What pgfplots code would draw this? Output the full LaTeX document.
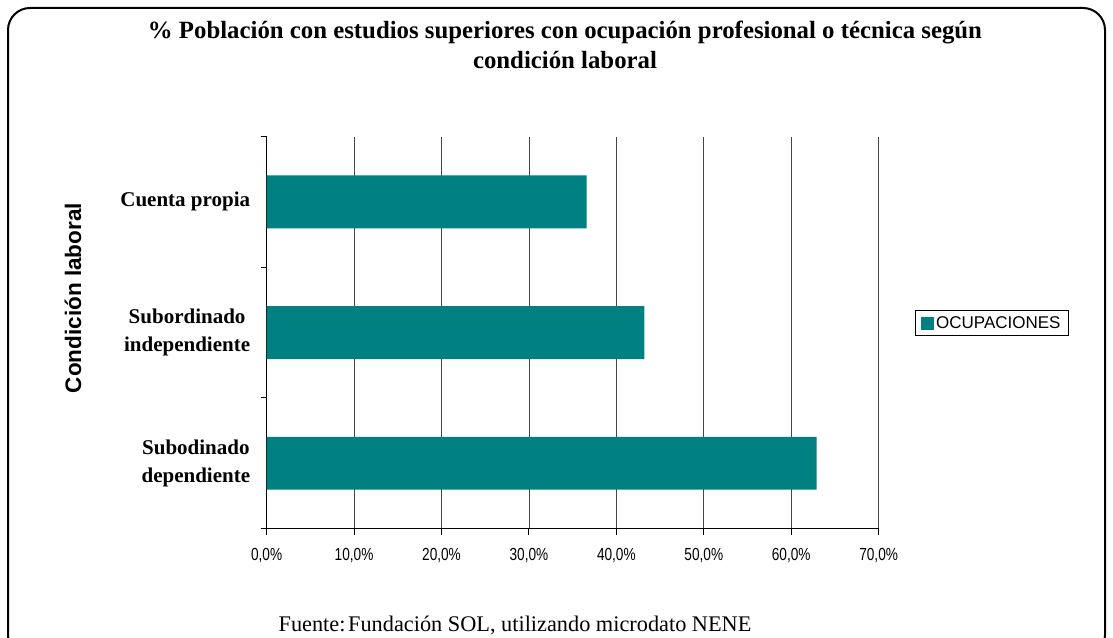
\documentclass[border=0pt]{standalone}
\usepackage{fontspec}
\setmainfont{Liberation Serif}
\setsansfont{Liberation Sans}
\newfontfamily\ticksf{Liberation Sans}[FakeStretch=0.78]
\usepackage{pgfplots}
\pgfplotsset{compat=1.18}
\definecolor{barteal}{RGB}{0,128,128}
\begin{document}
\begin{tikzpicture}[x=1pt,y=1pt]
\useasboundingbox (0,0) rectangle (1113,637);
\clip (0,0) rectangle (1113,637);
\draw[line width=2pt, rounded corners=22pt] (8,-20) rectangle (1105,629);
\begin{axis}[
  at={(305,83)}, anchor=south west,
  scale only axis, width=612pt, height=392pt,
  xmin=0, xmax=70, ymin=-0.5, ymax=2.5,
  xbar, bar width=0.405,
  axis x line*=bottom, axis y line*=left,
  axis line style={-, line width=1.2pt, black},
  tick align=outside, major tick length=6pt,
  tick style={black, line width=1pt},
  /pgf/number format/assume math mode=true,
  xtick={0,10,...,70},
  xticklabel={\pgfmathprintnumber[fixed,fixed zerofill,precision=1,use comma]{\tick}\%},
  x tick label style={font=\ticksf\fontsize{17.5}{17.5}\selectfont, yshift=-10pt},
  ytick={-0.5,0.5,1.5,2.5},
  yticklabels={,,,},
  extra y ticks={0,1,2},
  extra y tick labels={{Subodinado\\dependiente},{Subordinado\\independiente},{Cuenta propia}},
  extra y tick style={major tick length=0pt},
  y tick label style={align=center, font=\bfseries\fontsize{21}{28}\selectfont, xshift=-13pt},
  xmajorgrids=true,
  major grid style={gray!55!black, line width=0.7pt},
  legend style={at={(1.185,0.524)}, anchor=center, draw=black, line width=1.2pt,
    font=\sffamily\fontsize{17}{17}\selectfont, inner xsep=6pt, inner ysep=4pt},
  legend image code/.code={\fill[barteal] (0pt,-6.5pt) rectangle (13pt,6.5pt);},
]
\addplot[fill=barteal, draw=none] coordinates {(62.9,0) (43.2,1) (36.6,2)};
\addlegendentry{OCUPACIONES}
\end{axis}
\node[align=center, inner sep=0pt, anchor=north, font=\bfseries\fontsize{24.8}{30}\selectfont] at (565,616)
  {\% Población con estudios superiores con ocupación profesional o técnica según\\condición laboral};
\node[rotate=90, inner sep=0pt, font=\sffamily\bfseries\fontsize{22.5}{22.5}\selectfont] at (73,339) {Condición laboral};
\node[anchor=base, inner sep=0pt, font=\fontsize{22.3}{22}\selectfont] at (515,6) {Fuente:\hspace{0.12em}Fundación SOL, utilizando microdato NENE};
\end{tikzpicture}
\end{document}
